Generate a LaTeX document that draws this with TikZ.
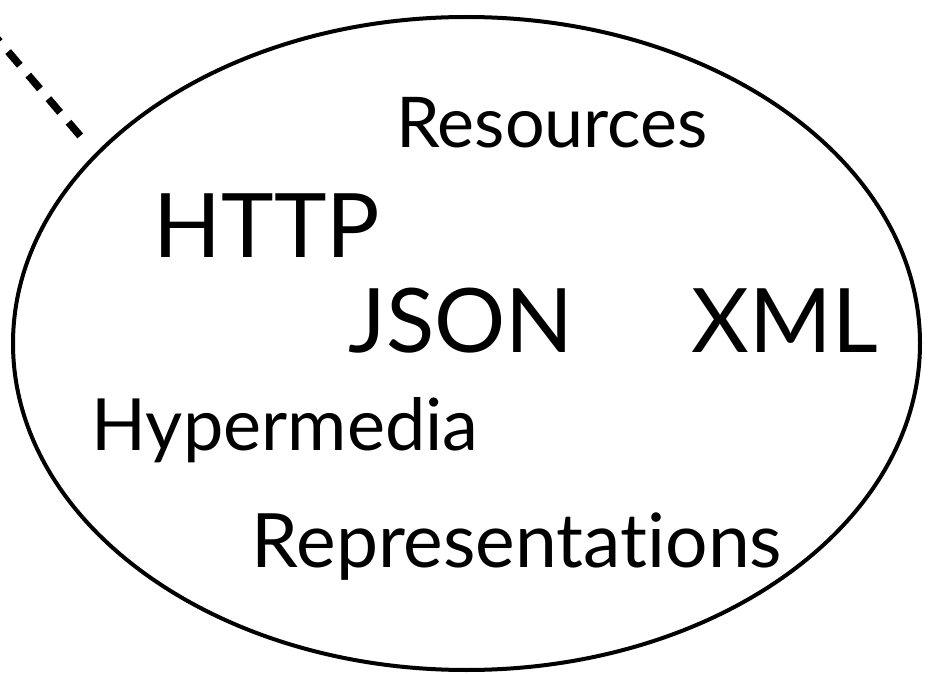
\documentclass[tikz,border=0pt]{standalone}
\usepackage{fontspec}
\setmainfont{Lato}[Ligatures={NoCommon}]
\begin{document}
\begin{tikzpicture}[x=1pt,y=-1pt,
  word/.style={inner sep=0pt,anchor=base},
  scope ring/.style={draw=black,line width=4pt},
  link/.style={draw=black,line width=7.5pt,dash pattern=on 18pt off 13pt}]
\useasboundingbox (0,0) rectangle (930,674);
% the enclosing ellipse
\draw[scope ring] (466.5,343.5) ellipse [x radius=453.5, y radius=326.5];
% dashed connector coming in from the upper left
\coordinate (linkfrom) at (-12,28);
\coordinate (linkto) at (88,145);
\draw[link] (linkfrom) -- (linkto);
% terms inside the ellipse
\node[word,font=\fontsize{70}{70}\selectfont] (res) at (552,148) {Resources};
\node[word,font=\fontsize{89}{89}\selectfont] (http) at (267,258) {HTTP};
\node[word,font=\fontsize{89}{89}\selectfont] (json) at (461,352) {JSON};
\node[word,font=\fontsize{89}{89}\selectfont] (xml) at (785,352) {XML};
\node[word,font=\fontsize{72}{72}\selectfont] (hyper) at (285,450) {Hypermedia};
\node[word,font=\fontsize{75}{75}\selectfont] (repr) at (517,567) {Representations};
\end{tikzpicture}
\end{document}
